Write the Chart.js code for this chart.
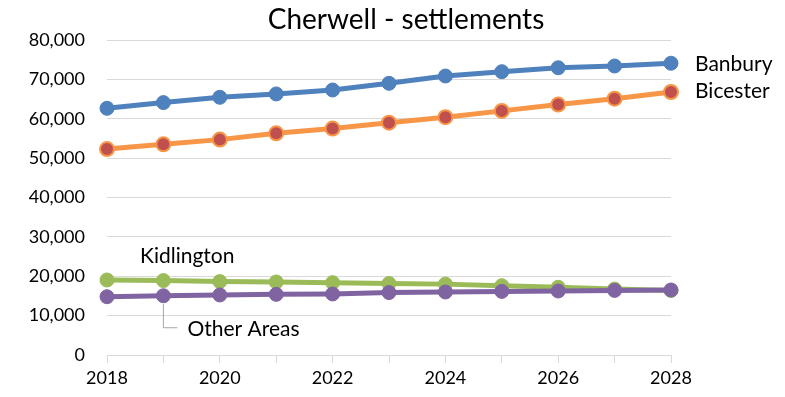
<!DOCTYPE html>
<html>
<head>
<meta charset="utf-8">
<script src="https://cdn.jsdelivr.net/npm/chart.js@4"></script>
<style>
  html, body { margin: 0; padding: 0; background: #fff; }
  #wrap { width: 785px; height: 397px; }
</style>
</head>
<body>
<div id="wrap"><canvas id="myChart"></canvas></div>
<script>
var years = ['2018', '2019', '2020', '2021', '2022', '2023', '2024', '2025', '2026', '2027', '2028'];
var banbury = [62650, 64100, 65450, 66300, 67300, 69000, 70850, 71950, 72950, 73400, 74100];
var bicester = [52300, 53500, 54700, 56300, 57500, 59000, 60400, 62000, 63600, 65100, 66800];
var kidlington = [19050, 18900, 18650, 18550, 18380, 18150, 18000, 17600, 17200, 16750, 16400];
var otherAreas = [14800, 15050, 15250, 15400, 15500, 15850, 16000, 16150, 16250, 16400, 16500];

var FONT = 'Lato, "Open Sans", sans-serif';

// series names written beside the lines instead of a legend
var labelPlugin = {
  id: 'seriesLabels',
  afterDraw: function (chart) {
    var c = chart.ctx;
    var xs = chart.scales.x, ys = chart.scales.y;
    var last = years.length - 1;
    c.save();
    c.fillStyle = '#000';
    c.font = '28px ' + FONT;
    c.textAlign = 'center';
    c.textBaseline = 'middle';
    c.fillText('Cherwell - settlements', 406, 20);

    c.font = '21px ' + FONT;
    c.textAlign = 'left';
    c.fillText('Banbury', xs.getPixelForValue(last) + 24, ys.getPixelForValue(banbury[last]) + 1);
    c.fillText('Bicester', xs.getPixelForValue(last) + 24, ys.getPixelForValue(bicester[last]) - 1);
    c.fillText('Kidlington', xs.getPixelForValue(0) + 33, ys.getPixelForValue(kidlington[0]) - 24);

    // leader line for Other Areas
    var lx = xs.getPixelForValue(1);
    var ly = ys.getPixelForValue(otherAreas[1]);
    c.strokeStyle = '#a6a6a6';
    c.lineWidth = 1;
    c.beginPath();
    c.moveTo(lx, ly + 8);
    c.lineTo(lx, ly + 32);
    c.lineTo(lx + 14, ly + 32);
    c.stroke();
    c.fillText('Other Areas', lx + 24, ly + 33);
    c.restore();
  }
};

var ctx = document.getElementById('myChart').getContext('2d');
var myChart = new Chart(ctx, {
  type: 'line',
  data: {
    labels: years,
    datasets: [{
      label: 'Banbury',
      data: banbury,
      borderColor: '#4f81bd',
      backgroundColor: '#4f81bd',
      pointBorderColor: '#4f81bd',
      order: 3
    }, {
      label: 'Bicester',
      data: bicester,
      borderColor: '#f79646',
      backgroundColor: '#c0504d',
      pointBorderColor: '#f79646',
      pointBorderWidth: 2,
      order: 2
    }, {
      label: 'Kidlington',
      data: kidlington,
      borderColor: '#9bbb59',
      backgroundColor: '#9bbb59',
      pointBorderColor: '#9bbb59',
      order: 1
    }, {
      label: 'Other Areas',
      data: otherAreas,
      borderColor: '#8064a2',
      backgroundColor: '#8064a2',
      pointBorderColor: '#8064a2',
      order: 0
    }]
  },
  options: {
    responsive: true,
    maintainAspectRatio: false,
    animation: false,
    layout: { padding: { top: 40, right: 114, bottom: 0, left: 0 } },
    elements: {
      line: { borderWidth: 5, tension: 0 },
      point: { radius: 7, borderWidth: 1, hoverRadius: 7 }
    },
    plugins: {
      legend: { display: false },
      title: { display: false },
      tooltip: { enabled: false }
    },
    scales: {
      x: {
        offset: false,
        afterFit: function (scale) { scale.height = 42; },
        grid: {
          drawOnChartArea: false,
          drawTicks: true,
          tickLength: 8,
          color: '#d9d9d9'
        },
        border: { color: '#d9d9d9', width: 1 },
        ticks: {
          autoSkip: false,
          maxRotation: 0,
          padding: 4,
          color: '#000',
          font: { family: FONT, size: 18 },
          callback: function (v, i) { return i % 2 === 0 ? years[i] : ''; }
        }
      },
      y: {
        min: 0,
        max: 80000,
        afterFit: function (scale) { scale.width = 107; },
        grid: { color: '#d9d9d9', lineWidth: 1, drawTicks: false },
        border: { display: false },
        ticks: {
          stepSize: 10000,
          padding: 22,
          color: '#000',
          font: { family: FONT, size: 18 },
          callback: function (v) { return v.toLocaleString('en-US'); }
        }
      }
    }
  },
  plugins: [labelPlugin]
});
</script>
</body>
</html>
